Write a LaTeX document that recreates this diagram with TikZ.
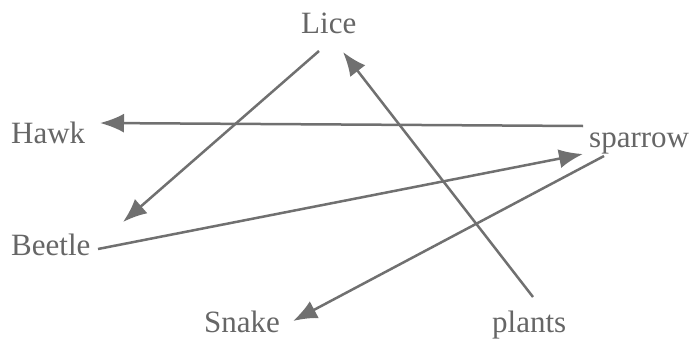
\documentclass[tikz,border=0pt]{standalone}
\usepackage{fontspec}
\setmainfont{Liberation Serif}
\usetikzlibrary{arrows.meta}
\definecolor{inkgray}{HTML}{666666}
\definecolor{linegray}{HTML}{707070}
\begin{document}
\begin{tikzpicture}[x=1pt,y=-1pt,
  lbl/.style={anchor=base west,inner sep=0pt,text=inkgray,font=\fontsize{31}{36}\selectfont},
  link/.style={draw=linegray,line width=2.5pt,-{Latex[length=24pt,width=19pt]}}]
\useasboundingbox[fill=white] (0,0) rectangle (692,340);
\node[lbl] (lice) at (301,33) {Lice};
\node[lbl] (hawk) at (11,143) {Hawk};
\node[lbl] (sparrow) at (589,147) {sparrow};
\node[lbl] (beetle) at (11,255) {Beetle};
\node[lbl] (snake) at (204,332) {Snake};
\node[lbl] (plants) at (492,332) {plants};
% connector ends
\coordinate (liceOut) at (319,51);
\coordinate (liceIn) at (343,52);
\coordinate (beetleIn) at (123,222);
\coordinate (beetleOut) at (98,249);
\coordinate (hawkIn) at (100,123);
\coordinate (sparrowOutH) at (583,126);
\coordinate (sparrowIn) at (583,154);
\coordinate (sparrowOutS) at (604,156);
\coordinate (snakeIn) at (293,321);
\coordinate (plantsOut) at (533,297);
\draw[link] (liceOut) -- (beetleIn);
\draw[link] (sparrowOutH) -- (hawkIn);
\draw[link] (beetleOut) -- (sparrowIn);
\draw[link] (sparrowOutS) -- (snakeIn);
\draw[link] (plantsOut) -- (liceIn);
\end{tikzpicture}
\end{document}
